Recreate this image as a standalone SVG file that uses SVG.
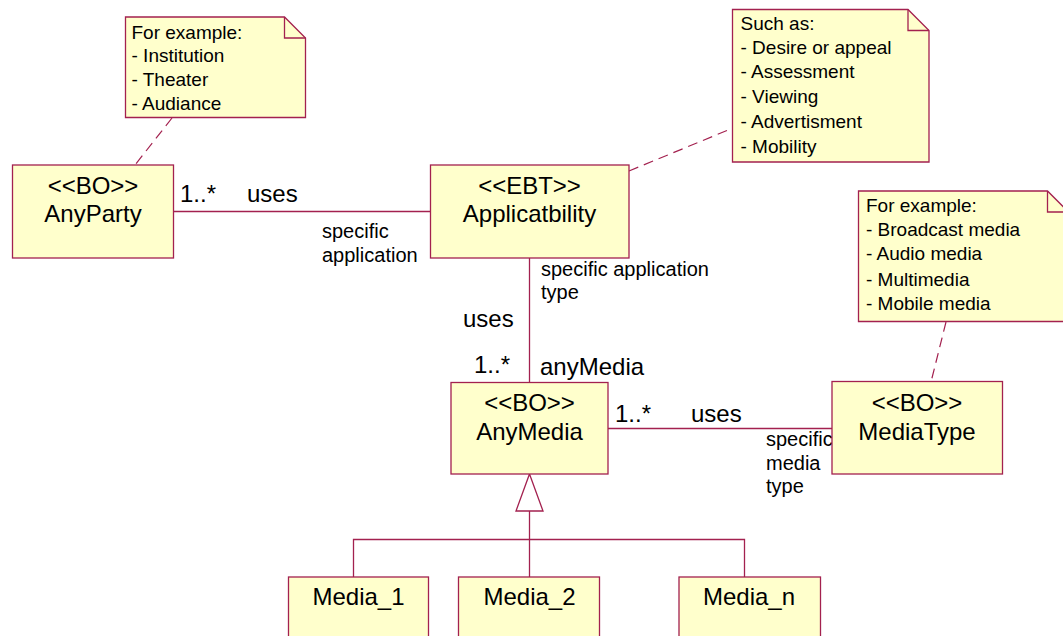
<svg xmlns="http://www.w3.org/2000/svg" width="1063" height="636" viewBox="0 0 1063 636">
  <style>
    .box { fill: #FFFFCC; stroke: #A3214F; stroke-width: 1.3; }
    .note { fill: #FFFFCC; stroke: #A3214F; stroke-width: 1.3; stroke-linejoin: miter; }
    .fold { fill: none; stroke: #A3214F; stroke-width: 1.3; }
    .line { fill: none; stroke: #A3214F; stroke-width: 1.3; }
    .dash { fill: none; stroke: #A3214F; stroke-width: 1.2; stroke-dasharray: 10 6; }
    .gen { fill: #FFFFFF; stroke: #A3214F; stroke-width: 1.3; }
    text { font-family: "Liberation Sans", Arial, sans-serif; fill: #000000; }
    .name { font-size: 24px; text-anchor: middle; }
    .lbl { font-size: 24px; }
    .role { font-size: 20px; }
    .ntxt { font-size: 19px; }
  </style>

  <!-- connectors -->
  <g id="connectors">
    <!-- AnyParty uses Applicatbility -->
    <line class="line" x1="173.5" y1="211.5" x2="430.5" y2="211.5"/>
    <!-- Applicatbility uses AnyMedia -->
    <line class="line" x1="529.5" y1="258" x2="529.5" y2="382.5"/>
    <!-- AnyMedia uses MediaType -->
    <line class="line" x1="608" y1="428.5" x2="832" y2="428.5"/>
    <!-- note anchors -->
    <line class="dash" x1="172" y1="118" x2="135" y2="165"/>
    <line class="dash" x1="629" y1="171" x2="733" y2="128"/>
    <line class="dash" x1="946" y1="322" x2="931" y2="382"/>
    <!-- generalization tree -->
    <polyline class="line" points="529.5,511 529.5,577"/>
    <polyline class="line" points="353.5,577 353.5,539.5 744.5,539.5 744.5,577"/>
    <polygon class="gen" points="529.5,474 543,511 516,511"/>

    <!-- association labels -->
    <text class="lbl" x="180" y="202">1..*</text>
    <text class="lbl" x="247" y="202">uses</text>
    <text class="role" x="322" y="238">specific</text>
    <text class="role" x="322" y="262">application</text>

    <text class="role" x="541" y="276">specific application</text>
    <text class="role" x="541" y="299">type</text>
    <text class="lbl" x="463" y="327">uses</text>
    <text class="lbl" x="474" y="373">1..*</text>
    <text class="lbl" x="540" y="375">anyMedia</text>

    <text class="lbl" x="615" y="421.5">1..*</text>
    <text class="lbl" x="691" y="421.5">uses</text>
    <text class="role" x="766" y="446">specific</text>
    <text class="role" x="766" y="469.5">media</text>
    <text class="role" x="766" y="492.5">type</text>
  </g>

  <!-- notes -->
  <g id="note-party">
    <path class="note" d="M125.5,17 H284.5 L305.5,38 V117.5 H125.5 Z"/>
    <path class="fold" d="M284.5,17 V38 H305.5"/>
    <text class="ntxt" x="131.5" y="38.5">For example:</text>
    <text class="ntxt" x="131.5" y="62.3">- Institution</text>
    <text class="ntxt" x="131.5" y="86">- Theater</text>
    <text class="ntxt" x="131.5" y="109.8">- Audiance</text>
  </g>

  <g id="note-applicability">
    <path class="note" d="M732.5,9.5 H908 L929,30.5 V162 H732.5 Z"/>
    <path class="fold" d="M908,9.5 V30.5 H929"/>
    <text class="ntxt" x="740.5" y="29.5">Such as:</text>
    <text class="ntxt" x="740.5" y="53.5">- Desire or appeal</text>
    <text class="ntxt" x="740.5" y="78.3">- Assessment</text>
    <text class="ntxt" x="740.5" y="102.7">- Viewing</text>
    <text class="ntxt" x="740.5" y="127.5">- Advertisment</text>
    <text class="ntxt" x="740.5" y="152.5">- Mobility</text>
  </g>

  <g id="note-mediatype">
    <path class="note" d="M858.5,191 H1047.5 L1068.5,212 V321.5 H858.5 Z"/>
    <path class="fold" d="M1047.5,191 V212 H1068.5"/>
    <text class="ntxt" x="866" y="212">For example:</text>
    <text class="ntxt" x="866" y="236">- Broadcast media</text>
    <text class="ntxt" x="866" y="260">- Audio media</text>
    <text class="ntxt" x="866" y="285.5">- Multimedia</text>
    <text class="ntxt" x="866" y="310">- Mobile media</text>
  </g>

  <!-- classes -->
  <g id="AnyParty">
    <rect class="box" x="12.5" y="165" width="161" height="93"/>
    <text class="name" x="93" y="194">&lt;&lt;BO&gt;&gt;</text>
    <text class="name" x="93" y="222.3">AnyParty</text>
  </g>

  <g id="Applicatbility">
    <rect class="box" x="430.5" y="165" width="198.5" height="93"/>
    <text class="name" x="529.5" y="194">&lt;&lt;EBT&gt;&gt;</text>
    <text class="name" x="529.5" y="222.3">Applicatbility</text>
  </g>

  <g id="AnyMedia">
    <rect class="box" x="451" y="382.5" width="157" height="91.5"/>
    <text class="name" x="529.5" y="410.7">&lt;&lt;BO&gt;&gt;</text>
    <text class="name" x="529.5" y="440">AnyMedia</text>
  </g>

  <g id="MediaType">
    <rect class="box" x="832" y="381.5" width="170.5" height="92.5"/>
    <text class="name" x="917" y="411">&lt;&lt;BO&gt;&gt;</text>
    <text class="name" x="917" y="440">MediaType</text>
  </g>

  <g id="Media_1">
    <rect class="box" x="288.5" y="577" width="140" height="80"/>
    <text class="name" x="358.5" y="605">Media_1</text>
  </g>

  <g id="Media_2">
    <rect class="box" x="458.5" y="577" width="141" height="80"/>
    <text class="name" x="529.5" y="605">Media_2</text>
  </g>

  <g id="Media_n">
    <rect class="box" x="679" y="577" width="141.5" height="80"/>
    <text class="name" x="749" y="605">Media_n</text>
  </g>
</svg>
